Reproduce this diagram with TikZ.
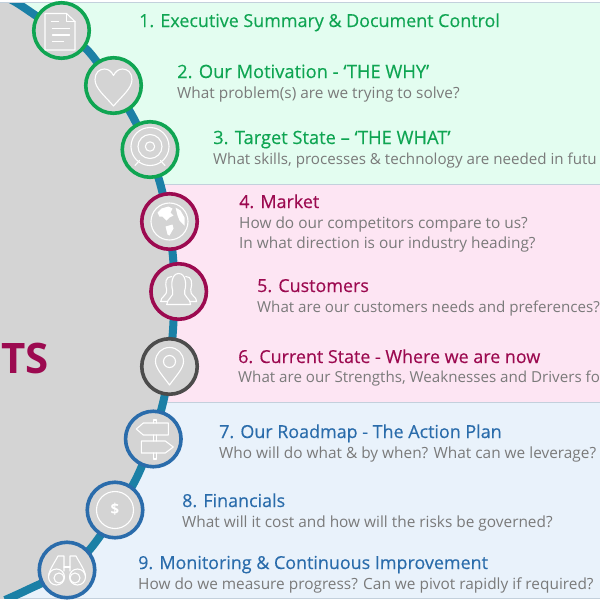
\documentclass[tikz,border=0pt]{standalone}
\usepackage{fontspec}
\setmainfont{Open Sans}
\newfontfamily\semifont[FakeBold=0.35]{Open Sans}
\usepackage{xcolor}
\usetikzlibrary{positioning}
\definecolor{grn}{HTML}{0FA552}
\definecolor{mgt}{HTML}{9C0A50}
\definecolor{blu}{HTML}{2A6CAB}
\definecolor{txt}{HTML}{7A7A7A}
\definecolor{teal}{HTML}{1B80A6}
\definecolor{edge}{HTML}{C3D0DC}
\definecolor{pgrn}{HTML}{E3FDF0}
\definecolor{ppnk}{HTML}{FDE5F3}
\definecolor{pblu}{HTML}{E9F2FB}
\begin{document}
\begin{tikzpicture}[x=1pt, y=-1pt,
  panel/.style={draw=edge, line width=0.8pt},
  ring/.style={circle, draw, line width=3.6pt, minimum size=55.5pt, inner sep=0pt, fill=black!17},
  head/.style={font=\semifont\fontsize{17.9}{20}\selectfont, anchor=base west, inner sep=0pt},
  headwide/.style={head, font=\semifont\fontsize{18.3}{20}\selectfont},
  sub/.style={font=\fontsize{15.4}{17}\selectfont, anchor=base west, inner sep=0pt, text=txt},
  subtight/.style={sub, font=\fontsize{15.15}{17}\selectfont},
  icon/.style={draw=white, line width=1.1pt, line join=round, line cap=round},
]
\useasboundingbox (0,0) rectangle (600,600);
\fill[white] (0,0) rectangle (600,600);
\draw[panel, fill=pgrn] (-5,2.5) rectangle (610,184.5);
\draw[panel, fill=ppnk] (-5,184.5) rectangle (610,402.5);
\draw[panel, fill=pblu] (-5,402.5) rectangle (610,598);

% grey area and the band along its edge
\begin{scope}
\clip (0,3) rectangle (600,598);
\fill[black!17] (-5,-5) -- plot[smooth] coordinates {(0,-5) (17,3) (61,33) (90,53) (133,117) (160,183) (173,257) (173,330) (163,403) (137,477) (95,543) (67,570) (27,590) (5,600)} -- (-5,605) -- cycle;
\draw[teal, line width=8pt] plot[smooth] coordinates {(0,-5) (17,3) (61,33) (90,53) (133,117) (160,183) (173,257) (173,330) (163,403) (137,477) (95,543) (67,570) (27,590) (5,600)};
\end{scope}

\node[font=\fontsize{42}{44}\selectfont\bfseries, text=mgt, anchor=base west, inner sep=0pt] (word) at (1,373) {TS};

\node[ring, draw=grn] (n1) at (61.5,30.5) {};
\node[ring, draw=grn] (n2) at (113.5,85.5) {};
\node[ring, draw=grn] (n3) at (150,149.5) {};
\node[ring, draw=mgt] (n4) at (169.5,221.5) {};
\node[ring, draw=mgt] (n5) at (178.7,291.5) {};
\node[ring, draw=black!70] (n6) at (169.5,366.5) {};
\node[ring, draw=blu] (n7) at (153.3,439) {};
\node[ring, draw=blu] (n8) at (115,510) {};
\node[ring, draw=blu] (n9) at (67,570) {};

% icons
\begin{scope}[shift={(n1.center)}]
\draw[icon] (-16.5,-17) -- (5,-17) -- (13.5,-9) -- (13.5,19.5) -- (-16.5,19.5) -- cycle;
\draw[icon] (5,-17) -- (5,-9) -- (13.5,-9);
\draw[icon] (-10,-9) -- (-3,-9) (-9,-2) -- (8,-2) (-9,4.5) -- (8,4.5) (-9,11) -- (2,11);
\end{scope}
\begin{scope}[shift={(n2.center)}]
\draw[icon] (0,20.5) .. controls (-8,11) and (-18.5,3) .. (-18.5,-6) .. controls (-18.5,-13) and (-14,-16.5) .. (-9,-16.5) .. controls (-5,-16.5) and (-2,-14) .. (0,-10) .. controls (2,-14) and (5,-16.5) .. (9,-16.5) .. controls (14,-16.5) and (18.5,-13) .. (18.5,-6) .. controls (18.5,3) and (8,11) .. cycle;
\end{scope}
\begin{scope}[shift={(n3.center)}]
\draw[icon] (0,-3) circle (19) (0,-3) circle (12) (0,-3) circle (4.7);
\draw[icon] (-15,16) -- (-10.5,11) (15,16) -- (10.5,11);
\end{scope}
\begin{scope}[shift={(n4.center)}]
\draw[icon] (0,0) circle (18.5);
\fill[white] (-12,-9) -- (-8,-13) -- (-1,-15) -- (3,-13) -- (1,-9) -- (4,-6) -- (0,-4) -- (-3,-1) -- (-7,-5) -- (-10,-5) -- cycle;
\fill[white] (-4,5) -- (3,3) -- (4,7) -- (0,14) -- (-2,13) -- cycle;
\fill[white] (6,-14) -- (11,-11) -- (15,-4) -- (15,4) -- (10,-1) -- (8,-6) -- cycle;
\end{scope}
\begin{scope}[shift={(n5.center)}]
\draw[icon] (-12,13) -- (12,13) .. controls (12,7) and (4,5) .. (6,-1) .. controls (8,-7) and (7,-18) .. (0,-18) .. controls (-7,-18) and (-8,-7) .. (-6,-1) .. controls (-4,5) and (-12,7) .. cycle;
\draw[icon] (-11,10) -- (-18,10) .. controls (-18,5) and (-11,4) .. (-12,-2) .. controls (-14,-9) and (-13,-15) .. (-7,-15);
\draw[icon] (11,10) -- (18,10) .. controls (18,5) and (11,4) .. (12,-2) .. controls (14,-9) and (13,-15) .. (7,-15);
\end{scope}
\begin{scope}[shift={(n6.center)}]
\draw[icon] (0,18.5) .. controls (-6,10) and (-14,2) .. (-14,-5) .. controls (-14,-13) and (-8,-19) .. (0,-19) .. controls (8,-19) and (14,-13) .. (14,-5) .. controls (14,2) and (6,10) .. cycle;
\draw[icon] (0,-5) circle (6);
\end{scope}
\begin{scope}[shift={(n7.center)}]
\draw[icon] (-17,-10) -- (-10,-16) -- (15,-16) -- (15,-4) -- (-10,-4) -- cycle;
\draw[icon] (-12,2) -- (12,2) -- (20,8) -- (12,14) -- (-12,14) -- cycle;
\draw[icon] (0,-16) -- (0,-19) -- (3,-19) -- (3,-16) (0,-4) -- (0,2) (3,-4) -- (3,2) (0,14) -- (0,20) -- (3,20) -- (3,14);
\end{scope}
\begin{scope}[shift={(n8.center)}]
\draw[icon] (0,0) circle (18.5);
\node[font=\fontsize{15}{17}\selectfont\bfseries, text=white, inner sep=0pt] (dollar) at (0,-1) {\$};
\end{scope}
\begin{scope}[shift={(n9.center)}]
\draw[icon] (-10.5,7) circle (8) (10.5,7) circle (8);
\draw[icon] (-8,8) circle (5) (8,8) circle (5);
\draw[icon] (-18.5,6) .. controls (-18,0) and (-12,-8) .. (-9,-14) -- (-3,-14) -- (-3,1);
\draw[icon] (18.5,6) .. controls (18,0) and (12,-8) .. (9,-14) -- (3,-14) -- (3,1);
\draw[icon] (-3,-3) -- (3,-3);
\end{scope}

% text rows
\node[head, text=grn] (t1) at (139,27) {1. Executive Summary \& Document Control};
\node[headwide, text=grn] (t2) at (177,78) {2. Our Motivation - ‘THE WHY’};
\node[sub] (s2) at (177,98) {What problem(s) are we trying to solve?};
\node[headwide, text=grn] (t3) at (213,144) {3. Target State – ‘THE WHAT’};
\node[subtight] (s3) at (213,164) {What skills, processes \& technology are needed in futu};
\node[head, text=mgt] (t4) at (239,208) {4. Market};
\node[sub] (s4a) at (239,228) {How do our competitors compare to us?};
\node[sub] (s4b) at (239,248) {In what direction is our industry heading?};
\node[head, text=mgt] (t5) at (257,292) {5. Customers};
\node[subtight] (s5) at (257,312) {What are our customers needs and preferences?};
\node[head, text=mgt] (t6) at (238,363) {6. Current State - Where we are now};
\node[subtight] (s6) at (238,382) {What are our Strengths, Weaknesses and Drivers fo};
\node[head, text=blu] (t7) at (219,438) {7. Our Roadmap - The Action Plan};
\node[sub] (s7) at (219,458) {Who will do what \& by when? What can we leverage?};
\node[head, text=blu] (t8) at (182,507) {8. Financials};
\node[sub] (s8) at (182,527) {What will it cost and how will the risks be governed?};
\node[head, text=blu] (t9) at (138,569) {9. Monitoring \& Continuous Improvement};
\node[sub] (s9) at (138,589) {How do we measure progress? Can we pivot rapidly if required?};
\end{tikzpicture}
\end{document}
